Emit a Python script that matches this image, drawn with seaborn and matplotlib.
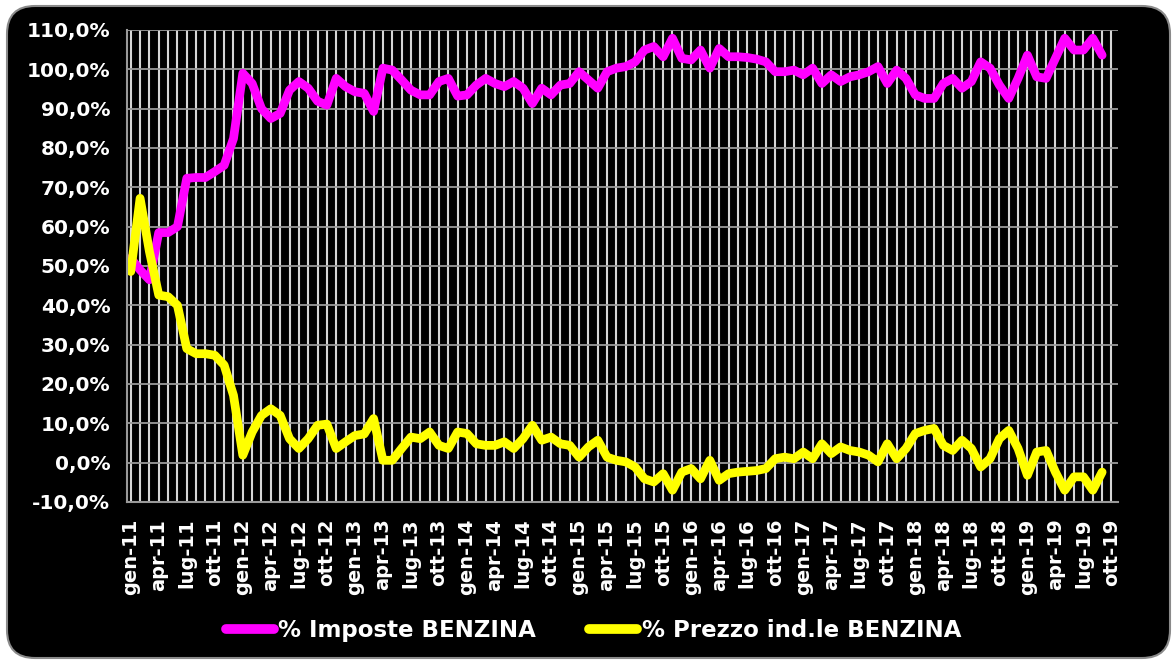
import matplotlib
matplotlib.use('Agg')
import matplotlib.pyplot as plt
from matplotlib.patches import FancyBboxPatch
from matplotlib.transforms import IdentityTransform
from matplotlib.ticker import MultipleLocator
import pandas as pd
import seaborn as sns

# valori mensili gen-11 ... set-19 (quota %)
imposte = [52, 49, 46.5, 58.5, 58.5, 60, 72.3, 72.5, 72.5, 74, 75.6, 82.4,
           99, 96.4, 90, 87.5, 88.8, 94.7, 96.9, 95.2, 91.9, 90.9, 97.7, 95.6,
           94.3, 93.9, 89.3, 100.3, 99.8, 97.3, 94.7, 93.5, 93.5, 96.9, 97.7, 93.2,
           93.5, 96, 97.7, 96.4, 95.6, 96.9, 95.2, 91.3, 95.2, 93.5, 96, 96.4,
           99.4, 97.3, 95.2, 99.4, 100.3, 100.7, 101.9, 104.9, 105.8, 103.2, 107.9, 102.8,
           102.4, 104.9, 100.3, 105.3, 103.2, 103.2, 103, 102.6, 101.9, 99.4, 99.4, 99.8,
           98.6, 100.3, 96.4, 98.6, 96.9, 98.1, 98.6, 99.4, 100.7, 96.4, 99.8, 97.7,
           93.5, 92.6, 92.6, 96.4, 97.7, 95.2, 96.9, 101.9, 100.3, 96, 92.6, 97.7,
           103.6, 98.1, 97.7, 102.8, 107.9, 104.9, 104.9, 107.9, 103.6]
prezzo = [48.6, 67.2, 53.7, 42.6, 42.2, 40, 29, 27.7, 27.7, 27.3, 24.8, 17.1,
          1.9, 7.8, 12, 13.7, 12, 6.1, 3.6, 6.1, 9.5, 9.8, 3.6, 5.3,
          6.9, 7.3, 11.2, 0.6, 0.6, 3.6, 6.5, 6.1, 7.8, 4.4, 3.6, 7.8,
          7.4, 4.8, 4.4, 4.4, 5.3, 3.6, 6.1, 9.5, 5.7, 6.5, 4.8, 4.4,
          1.4, 4.0, 5.7, 1.4, 0.6, 0.2, -1.1, -4.1, -4.9, -2.8, -7.0, -2.4,
          -1.5, -4.1, 0.6, -4.5, -2.8, -2.4, -2.2, -2.0, -1.5, 1.0, 1.4, 1.0,
          2.7, 1.0, 4.8, 2.3, 4.0, 3.1, 2.7, 1.9, 0.2, 4.8, 1.0, 3.6,
          7.4, 8.2, 8.7, 4.4, 3.1, 5.7, 3.6, -1.1, 1.0, 6.1, 8.2, 3.6,
          -3.2, 2.7, 3.1, -2.4, -7.0, -3.6, -3.6, -7.0, -2.4]
anni = ['11', '12', '13', '14', '15', '16', '17', '18', '19']
mesi_tick = ['gen', 'apr', 'lug', 'ott']
serie = ['% Imposte BENZINA', '% Prezzo ind.le BENZINA']
colori = ['#FF00FF', '#FFFF00']

tick_labels = [f'{m}-{a}' for a in anni for m in mesi_tick]

df = pd.DataFrame({'mese': range(len(imposte)), serie[0]: imposte, serie[1]: prezzo})
df = df.melt(id_vars='mese', var_name='serie', value_name='valore')

sns.set_theme(style='dark')
plt.rcParams['font.family'] = ['DejaVu Sans']

fig = plt.figure(figsize=(11.73, 6.62), dpi=100, facecolor='white')
bg = FancyBboxPatch((7, 4), 1163, 652, boxstyle='round,pad=0,rounding_size=28',
                    transform=IdentityTransform(), fc='black', ec='#8a8a8a', lw=1.5,
                    zorder=-10)
fig.patches.append(bg)

ax = fig.add_axes([127 / 1173, 1 - 502 / 662, (1118 - 127) / 1173, (502 - 30) / 662])
ax.set_facecolor('black')
ax.set_axisbelow(True)

sns.lineplot(data=df, x='mese', y='valore', hue='serie', hue_order=serie,
             palette=colori, linewidth=6.3, ax=ax)
for ln in ax.lines:
    ln.set_solid_joinstyle('round')
    ln.set_solid_capstyle('round')

ax.set_xlim(-0.4, 105.7)
ax.set_ylim(-10, 110)
yt = list(range(-10, 111, 10))
ax.set_yticks(yt)
ax.set_yticklabels([f'{v},0%' for v in yt], fontsize=14.5, fontweight='bold', color='white')
ax.set_xticks(range(0, 106, 3))
ax.set_xticklabels(tick_labels, rotation=90, fontsize=14, fontweight='bold', color='white')
ax.xaxis.set_minor_locator(MultipleLocator(1))

ax.grid(which='major', axis='y', color='#9a9a9a', lw=1.3)
ax.grid(which='both', axis='x', color='#d6d6d6', lw=1.5)
ax.tick_params(axis='x', which='minor', length=0)
ax.tick_params(axis='both', which='major', color='#9a9a9a', length=8, width=1.5, pad=4)
ax.set_xlabel('')
ax.set_ylabel('')
for s in ['top', 'right']:
    ax.spines[s].set_visible(False)
for s in ['left', 'bottom']:
    ax.spines[s].set_color('#9a9a9a')
    ax.spines[s].set_linewidth(1.5)

handles, labels = ax.get_legend_handles_labels()
ax.get_legend().remove()
leg = fig.legend(handles, labels, loc='center', bbox_to_anchor=(0.506, 0.048), ncol=2,
                 frameon=False, handlelength=2.1, handletextpad=0.2, columnspacing=2.3,
                 prop={'size': 16.5, 'weight': 'bold'})
for t in leg.get_texts():
    t.set_color('white')
for h in leg.legend_handles:
    h.set_linewidth(7)
    h.set_solid_capstyle('round')

fig.savefig('out.png', dpi=100, facecolor='white')
